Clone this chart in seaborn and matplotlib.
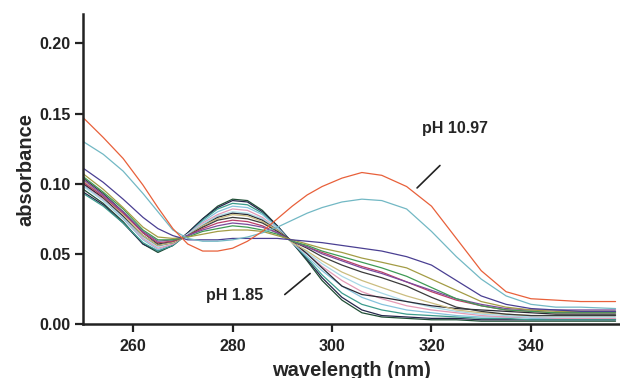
import numpy as np
import pandas as pd
import matplotlib
matplotlib.use("Agg")
import matplotlib.pyplot as plt
import seaborn as sns

# wavelength knots (nm)
wavelength = [250, 254, 258, 262, 265, 268, 271, 274, 277, 280, 283, 286, 289, 292,
              295, 298, 302, 306, 310, 315, 320, 325, 330, 335, 340, 345, 350, 357]

# absorbance of each spectrum at the knots (acidic -> basic)
acid_185 = [.096, .086, .073, .057, .051, .056, .065, .075, .084, .089, .088, .081, .070, .058,
            .045, .031, .017, .008, .005, .004, .003, .003, .002, .002, .002, .002, .002, .002]
spec_2 = [.094, .085, .072, .057, .052, .056, .065, .075, .083, .088, .087, .080, .070, .058,
          .046, .033, .019, .010, .006, .005, .004, .004, .003, .003, .003, .003, .003, .003]
spec_3 = [.093, .084, .072, .058, .052, .056, .064, .074, .082, .086, .085, .079, .069, .058,
          .047, .035, .022, .014, .010, .007, .006, .005, .004, .004, .003, .003, .003, .003]
spec_4 = [.099, .088, .075, .060, .053, .057, .064, .073, .080, .084, .083, .078, .069, .058,
          .048, .038, .027, .019, .014, .010, .008, .006, .005, .005, .004, .004, .004, .004]
spec_5 = [.100, .089, .076, .061, .054, .057, .064, .072, .078, .082, .081, .076, .068, .058,
          .050, .041, .031, .023, .018, .013, .010, .008, .006, .005, .005, .004, .004, .004]
spec_6 = [.098, .088, .076, .062, .055, .058, .064, .071, .077, .080, .079, .075, .068, .058,
          .051, .043, .034, .027, .022, .016, .012, .009, .007, .006, .005, .005, .005, .005]
spec_7 = [.100, .090, .077, .063, .056, .058, .063, .070, .076, .079, .078, .074, .067, .059,
          .050, .040, .027, .021, .019, .016, .013, .011, .010, .009, .008, .007, .007, .007]
spec_8 = [.102, .091, .078, .063, .056, .058, .063, .070, .075, .078, .077, .073, .067, .058,
          .052, .045, .037, .031, .026, .020, .015, .010, .008, .007, .006, .006, .006, .006]
spec_9 = [.104, .093, .080, .065, .057, .059, .063, .069, .074, .076, .075, .072, .066, .059,
          .054, .048, .042, .037, .033, .027, .019, .012, .009, .007, .006, .006, .006, .006]
spec_10 = [.101, .091, .079, .065, .058, .059, .063, .068, .072, .074, .073, .070, .065, .059,
           .055, .051, .046, .041, .037, .030, .023, .017, .013, .010, .009, .008, .008, .008]
spec_11 = [.103, .092, .080, .066, .059, .060, .063, .067, .070, .072, .071, .069, .065, .059,
           .055, .050, .045, .040, .036, .030, .024, .018, .014, .011, .010, .010, .010, .010]
spec_12 = [.105, .094, .082, .067, .060, .060, .062, .066, .068, .070, .069, .067, .064, .059,
           .056, .052, .048, .044, .040, .034, .026, .018, .013, .010, .009, .008, .008, .008]
spec_13 = [.107, .096, .083, .069, .062, .061, .062, .064, .066, .067, .067, .066, .063, .060,
           .057, .054, .051, .047, .044, .040, .032, .024, .016, .012, .010, .009, .009, .009]
spec_14 = [.111, .101, .089, .076, .068, .063, .060, .060, .060, .061, .061, .061, .061, .060,
           .059, .058, .056, .054, .052, .048, .042, .031, .020, .014, .011, .010, .009, .009]
spec_15 = [.130, .121, .109, .093, .080, .067, .061, .059, .059, .060, .062, .065, .069, .074,
           .079, .083, .087, .089, .088, .082, .066, .048, .032, .020, .014, .012, .012, .011]
base_1097 = [.147, .133, .118, .099, .083, .068, .057, .052, .052, .054, .059, .066, .075, .084,
             .092, .098, .104, .108, .106, .098, .084, .061, .038, .023, .018, .017, .016, .016]

spectra = [acid_185, spec_2, spec_3, spec_4, spec_5, spec_6, spec_7, spec_8, spec_9,
           spec_10, spec_11, spec_12, spec_13, spec_14, spec_15, base_1097]
colors = ["#1f4e35", "#25254a", "#3c9c8d", "#86c3dd", "#e49ab6", "#a8d8e6", "#2a2a35",
          "#cbbd80", "#3b3b3b", "#b83f68", "#7b4b9c", "#3f9a55", "#a39c45", "#4a3f92",
          "#72b8c4", "#e8603a"]

rows = []
for i, s in enumerate(spectra):
    for w, a in zip(wavelength, s):
        rows.append({"wl": w, "A": a, "curve": i})
df = pd.DataFrame(rows)

sns.set_style("ticks")
plt.rcParams["font.family"] = ["Liberation Sans", "DejaVu Sans"]

fig = plt.figure(figsize=(6.2, 3.78), dpi=100)
ax = fig.add_axes([0.1344, 0.1429, 0.8656, 0.820])

sns.lineplot(data=df, x="wl", y="A", hue="curve", palette=dict(enumerate(colors)),
             legend=False, linewidth=0.9, sort=False, estimator=None, ax=ax)

ax.set_xlim(250, 357.9)
ax.set_ylim(0, 0.221)
ax.set_xticks([260, 280, 300, 320, 340])
ax.set_yticks([0.0, 0.05, 0.10, 0.15, 0.20])
ax.set_yticklabels(["0.00", "0.05", "0.10", "0.15", "0.20"])
ax.tick_params(axis="both", width=1.6, length=5.5, labelsize=11.5, color="#222222",
               labelcolor="#222222")
ax.tick_params(axis="x", pad=5)
for lab in ax.get_xticklabels() + ax.get_yticklabels():
    lab.set_fontweight("bold")
sns.despine(ax=ax)
for sp in ["left", "bottom"]:
    ax.spines[sp].set_linewidth(1.8)
    ax.spines[sp].set_color("#222222")

ax.set_xlabel("wavelength (nm)", fontsize=14.5, fontweight="bold", labelpad=5)
ax.set_ylabel("absorbance", fontsize=14.5, fontweight="bold", labelpad=3)

ax.text(324.7, 0.1396, "pH 10.97", fontsize=11.5, fontweight="bold", ha="center",
        va="center")
ax.plot([321.7, 317.1], [0.113, 0.097], color="#222222", lw=1.2)
ax.text(280.5, 0.020, "pH 1.85", fontsize=11.5, fontweight="bold", ha="center",
        va="center")
ax.plot([290.5, 295.6], [0.021, 0.036], color="#222222", lw=1.2)

fig.savefig("out.png", dpi=100)
